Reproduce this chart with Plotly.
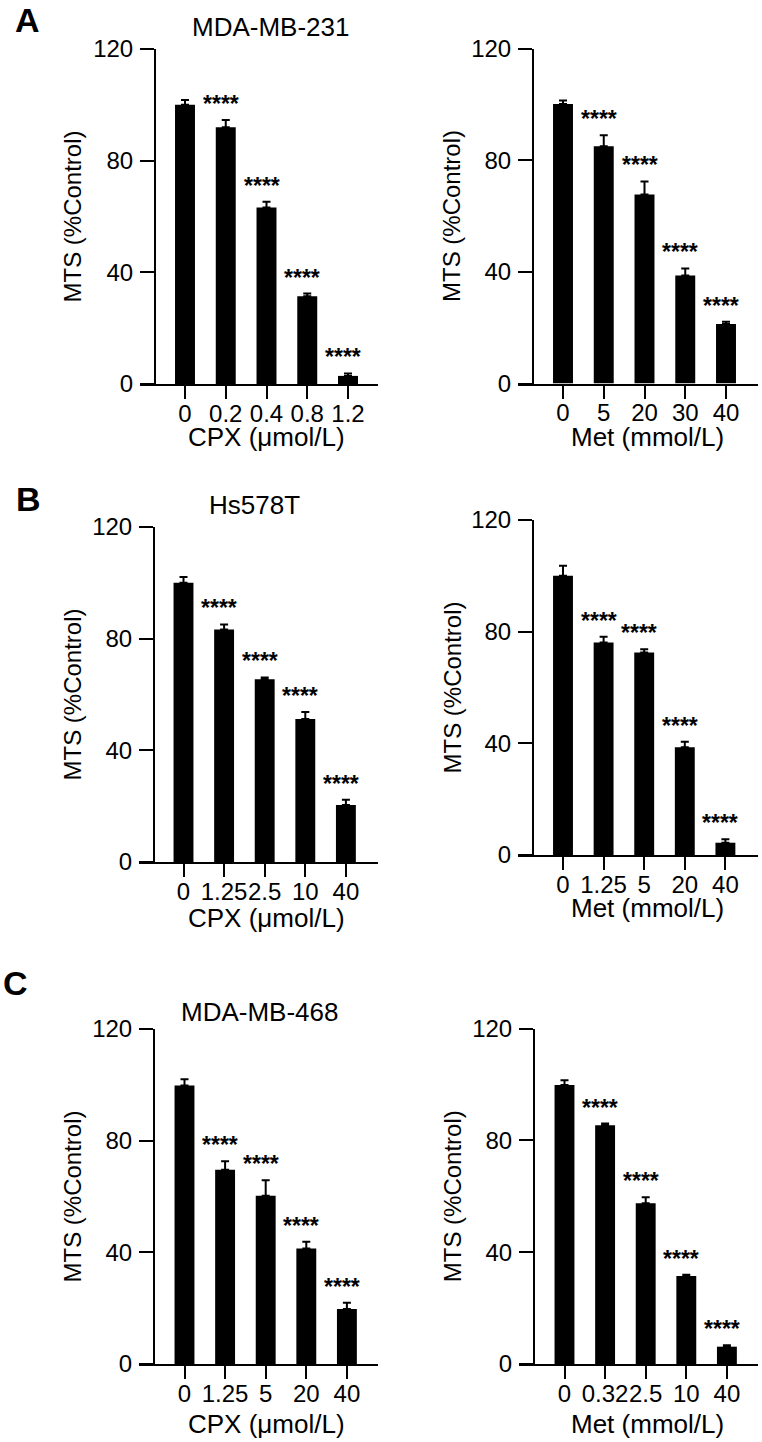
import plotly.graph_objects as go

W, H = 762, 1442
FONT = "Liberation Sans, Arial, sans-serif"

# ---------------- data ----------------
a_cpx_labels = ["0", "0.2", "0.4", "0.8", "1.2"]
a_cpx_mean = [100.0, 92.0, 63.2, 31.4, 2.9]
a_cpx_err = [1.7, 2.6, 2.1, 1.0, 0.9]

a_met_labels = ["0", "5", "20", "30", "40"]
a_met_mean = [100.1, 85.0, 67.7, 38.7, 21.3]
a_met_err = [1.3, 3.9, 4.7, 2.5, 0.8]

b_cpx_labels = ["0", "1.25", "2.5", "10", "40"]
b_cpx_mean = [100.0, 83.3, 65.5, 51.2, 20.4]
b_cpx_err = [2.1, 1.8, 0.6, 2.5, 1.9]

b_met_labels = ["0", "1.25", "5", "20", "40"]
b_met_mean = [100.0, 76.1, 72.5, 38.6, 4.4]
b_met_err = [3.6, 2.1, 1.2, 2.0, 1.2]

c_cpx_labels = ["0", "1.25", "5", "20", "40"]
c_cpx_mean = [99.8, 69.6, 60.3, 41.4, 19.7]
c_cpx_err = [2.2, 3.0, 5.5, 2.4, 2.2]

c_met_labels = ["0", "0.32", "2.5", "10", "40"]
c_met_mean = [99.8, 85.4, 57.5, 31.5, 6.2]
c_met_err = [1.7, 0.6, 2.1, 0.4, 0.5]

sig_marks = ["", "****", "****", "****", "****"]
y_ticks = [0, 40, 80, 120]
y_title = "MTS (%Control)"
cpx_title = "CPX (μmol/L)"
met_title = "Met (mmol/L)"

panels = [
    (a_cpx_labels, a_cpx_mean, a_cpx_err, cpx_title),
    (a_met_labels, a_met_mean, a_met_err, met_title),
    (b_cpx_labels, b_cpx_mean, b_cpx_err, cpx_title),
    (b_met_labels, b_met_mean, b_met_err, met_title),
    (c_cpx_labels, c_cpx_mean, c_cpx_err, cpx_title),
    (c_met_labels, c_met_mean, c_met_err, met_title),
]

# ---------------- layout geometry (pixels) ----------------
geo = [
    dict(yx=155, y0=384, y120=49, c0=185, step=40.75, xend=378, xt=(266, 437), yt=72),
    dict(yx=533, y0=383.5, y120=48.5, c0=563, step=40.75, xend=758, xt=(647, 437), yt=452),
    dict(yx=154, y0=862, y120=527, c0=183.5, step=40.6, xend=378, xt=(266, 918), yt=72),
    dict(yx=533, y0=855, y120=520, c0=563, step=40.6, xend=758, xt=(647, 908), yt=452),
    dict(yx=154, y0=1364, y120=1029, c0=184.5, step=40.6, xend=378, xt=(266, 1424), yt=72),
    dict(yx=534, y0=1364, y120=1028.5, c0=564.5, step=40.6, xend=758, xt=(647, 1424), yt=452),
]


def px(x):
    return x / W


def py(y):
    return 1 - y / H


fig = go.Figure()
annotations = []
layout_axes = {}

for i, ((labels, mean, err, xtitle), g) in enumerate(zip(panels, geo)):
    n = i + 1
    xa = "x" if n == 1 else f"x{n}"
    ya = "y" if n == 1 else f"y{n}"
    cats = list(range(len(labels)))
    fig.add_trace(go.Bar(
        x=cats, y=mean, width=0.49,
        marker=dict(color="black", line=dict(width=0)),
        error_y=dict(type="data", array=err, arrayminus=[0] * len(err), symmetric=False,
                     color="black", thickness=2, width=4),
        xaxis=xa, yaxis=ya, showlegend=False, cliponaxis=False,
    ))
    xs = g["yx"] - 15
    xr = [(xs - g["c0"]) / g["step"], (g["xend"] - g["c0"]) / g["step"]]
    layout_axes["xaxis" if n == 1 else f"xaxis{n}"] = dict(
        domain=[px(xs), px(g["xend"])], range=xr, anchor=ya, automargin=False,
        showline=True, linewidth=2, linecolor="black", ticks="outside", ticklen=13,
        tickwidth=2, tickcolor="black", tickvals=cats, ticktext=labels,
        ticklabelstandoff=-6, tickangle=0,
        tickfont=dict(size=24, color="black", family=FONT),
        showgrid=False, zeroline=False, fixedrange=True,
    )
    layout_axes["yaxis" if n == 1 else f"yaxis{n}"] = dict(
        domain=[py(g["y0"]), py(g["y120"])], range=[0, 120], anchor="free",
        position=px(g["yx"]), automargin=False,
        showline=True, linewidth=2, linecolor="black", ticks="outside", ticklen=14,
        tickwidth=2, tickcolor="black", tickvals=y_ticks, ticklabelstandoff=2,
        tickfont=dict(size=24, color="black", family=FONT),
        showgrid=False, zeroline=False, fixedrange=True,
    )
    # significance stars
    for j, s in enumerate(sig_marks):
        if s:
            annotations.append(dict(
                x=cats[j], y=mean[j] + err[j], xref=xa, yref=ya, text=f"<b>{s}</b>",
                showarrow=False, xanchor="center", yanchor="middle", yshift=16, xshift=-5,
                font=dict(size=23, color="black", family=FONT),
            ))
    # axis titles
    annotations.append(dict(
        x=px(g["xt"][0]), y=py(g["xt"][1]), xref="paper", yref="paper", text=xtitle,
        showarrow=False, xanchor="center", yanchor="middle",
        font=dict(size=26, color="black", family=FONT),
    ))
    annotations.append(dict(
        x=px(g["yt"]), y=py((g["y0"] + g["y120"]) / 2), xref="paper", yref="paper",
        text=y_title, textangle=-90, showarrow=False, xanchor="center", yanchor="middle",
        font=dict(size=24, color="black", family=FONT),
    ))

# panel titles and letters
for txt, x, y in [("MDA-MB-231", 270, 27), ("Hs578T", 254, 505), ("MDA-MB-468", 259, 1012)]:
    annotations.append(dict(x=px(x), y=py(y), xref="paper", yref="paper", text=txt,
                            showarrow=False, xanchor="center", yanchor="middle",
                            font=dict(size=26, color="black", family=FONT)))
for txt, x, y in [("A", 27, 20), ("B", 28, 499), ("C", 15, 983)]:
    annotations.append(dict(x=px(x), y=py(y), xref="paper", yref="paper",
                            text=f"<b>{txt}</b>", showarrow=False, xanchor="center",
                            yanchor="middle", font=dict(size=34, color="black", family=FONT)))

fig.update_layout(
    width=W, height=H, autosize=False,
    margin=dict(l=0, r=0, t=0, b=0, pad=0, autoexpand=False),
    paper_bgcolor="white", plot_bgcolor="white",
    annotations=annotations, bargap=0.5,
    font=dict(family=FONT, color="black"),
    **layout_axes,
)

fig.write_html("out.html")
